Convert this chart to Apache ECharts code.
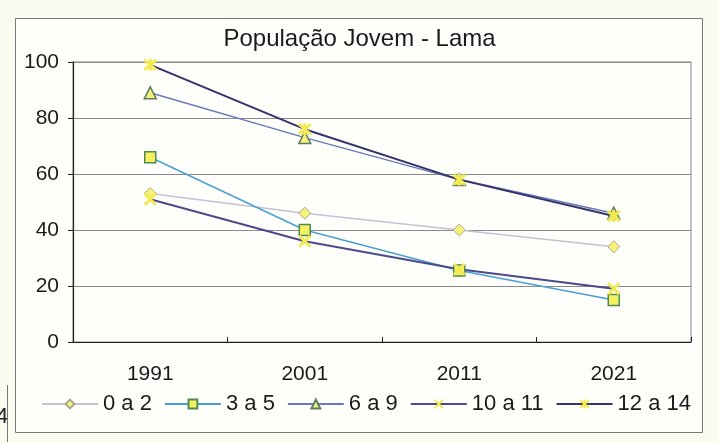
<!DOCTYPE html>
<html>
<head>
<meta charset="utf-8">
<script src="https://cdn.jsdelivr.net/npm/echarts@6/dist/echarts.min.js"></script>
<style>
html,body{margin:0;padding:0;background:#fcfbf0;}
#c{width:719px;height:442px;}
</style>
</head>
<body>
<div id="c"></div>
<script>
const categories = ['1991', '2001', '2011', '2021'];
const seriesNames = ['0 a 2', '3 a 5', '6 a 9', '10 a 11', '12 a 14'];
const s0a2 = [53, 46, 40, 34];
const s3a5 = [66, 40, 25.5, 15];
const s6a9 = [89, 73, 58, 46];
const s10a11 = [51, 36, 26, 19];
const s12a14 = [99, 76, 58, 45];
const yTicks = [0, 20, 40, 60, 80, 100];

const FONT = '"Liberation Sans", Arial, sans-serif';
const X_PATH = 'path://M0,0L10,10M10,0L0,10';
const STAR_PATH = 'path://M0,0L10,10M10,0L0,10M5,-1L5,11';

const chart = echarts.init(document.getElementById('c'), null, {renderer: 'canvas'});

function mk(name, data, lineColor, lineWidth, symbol, size, fill, border, bw) {
  return {
    name: name, type: 'line', data: data,
    symbol: symbol, symbolSize: size,
    lineStyle: {color: lineColor, width: lineWidth},
    itemStyle: {color: fill, borderColor: border, borderWidth: bw},
    emphasis: {disabled: true},
    animation: false
  };
}

chart.setOption({
  backgroundColor: 'transparent',
  animation: false,
  title: {
    text: 'População Jovem - Lama',
    left: 'center', top: 22,
    textStyle: {fontFamily: FONT, fontSize: 24, fontWeight: 'normal', color: '#1a1a1a'}
  },
  graphic: [
    {type: 'rect', z: -10, shape: {x: 15.5, y: 18.5, width: 687, height: 414},
     style: {fill: '#fefefa', stroke: '#777', lineWidth: 1}},
    {type: 'text', z: -5, left: -4, top: 406,
     style: {text: '4', font: '22px "Liberation Sans", Arial, sans-serif', fill: '#222'}},
    {type: 'line', z: -5, shape: {x1: 7.5, y1: 385, x2: 7.5, y2: 442}, style: {stroke: '#777', lineWidth: 1}}
  ],
  grid: {left: 73, right: 28, top: 62, bottom: 100, show: true, borderColor: '#888', borderWidth: 1, backgroundColor: 'transparent'},
  legend: {
    data: seriesNames,
    bottom: 22, left: 36,
    itemWidth: 56, itemHeight: 11, itemGap: 12,
    textStyle: {fontFamily: FONT, fontSize: 22, color: '#1a1a1a'}
  },
  xAxis: {
    type: 'category', data: categories, boundaryGap: true,
    axisLine: {lineStyle: {color: '#222', width: 1.2}},
    axisTick: {show: true, inside: true, length: 5, lineStyle: {color: '#222'}},
    axisLabel: {fontFamily: FONT, fontSize: 21, color: '#1a1a1a', margin: 22},
    splitLine: {show: false}
  },
  yAxis: {
    type: 'value', min: 0, max: 100, interval: 20,
    axisLine: {show: true, lineStyle: {color: '#222', width: 1.2}},
    axisTick: {show: true, length: 5, lineStyle: {color: '#222'}},
    axisLabel: {fontFamily: FONT, fontSize: 21, color: '#1a1a1a', margin: 14,
      formatter: function (v) { return yTicks.indexOf(v) >= 0 ? String(v) : ''; }},
    splitLine: {show: true, lineStyle: {color: '#8a8a8a', width: 1}}
  },
  series: [
    mk(seriesNames[0], s0a2, '#c3c3d6', 1.5, 'diamond', 12, '#f6f27a', '#a8a890', 1),
    mk(seriesNames[1], s3a5, '#4a9fd4', 1.5, 'rect', 11, '#f4f060', '#4f8a55', 1.5),
    mk(seriesNames[2], s6a9, '#6b78b8', 1.5, 'triangle', 12, '#f4f07a', '#5d7d62', 1.5),
    mk(seriesNames[3], s10a11, '#4b4b8c', 2, X_PATH, 11, 'none', '#f2ea50', 3),
    mk(seriesNames[4], s12a14, '#33336b', 2, STAR_PATH, 12, 'none', '#f2ea50', 3)
  ]
});
</script>
</body>
</html>
